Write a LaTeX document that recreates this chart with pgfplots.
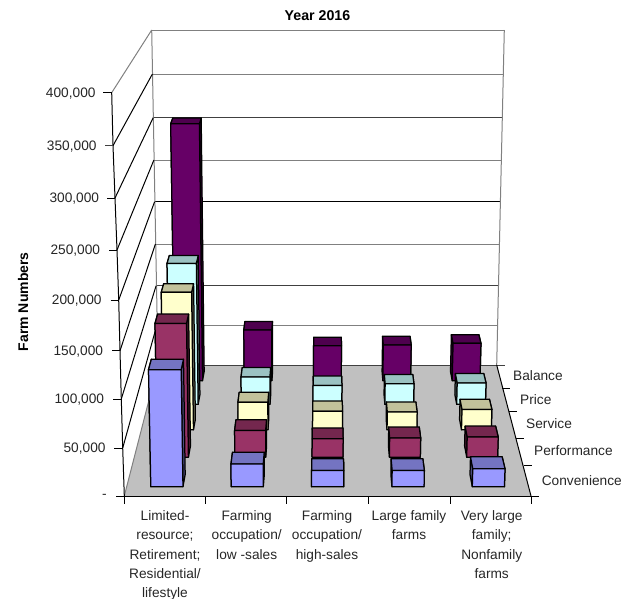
\documentclass[border=0pt]{standalone}
\usepackage{xfp}
\usepackage{fontspec}
\setmainfont{Liberation Sans}
\usepackage{pgfplots}
\pgfplotsset{compat=1.18}
\definecolor{sConv}{HTML}{9999FF}
\definecolor{sPerf}{HTML}{993366}
\definecolor{sServ}{HTML}{FFFFCC}
\definecolor{sPric}{HTML}{CCFFFF}
\definecolor{sBala}{HTML}{660066}
\definecolor{floorc}{HTML}{C0C0C0}
\definecolor{gridg}{HTML}{808080}
\definecolor{gridd}{HTML}{404040}
% projection of the chart's 3D box (u category, v series, w value) to pixels
\newcommand\setpt[4]{%
  \expandafter\edef\csname pt#1x\endcsname{\fpeval{round((124.3+406.7*(#2)+65.4*(#3)-15.7*(#4))/(1+.2008*(#3)-.0545*(#4)),3)}}%
  \expandafter\edef\csname pt#1y\endcsname{\fpeval{round((496-57.7*(#3)-408.4*(#4))/(1+.2008*(#3)-.0545*(#4)),3)}}%
}
% \farmbar{category 0-4}{series 0-4}{farms}{colour}
\newcommand\farmbar[4]{%
  \edef\ua{\fpeval{#1*.2+.06}}\edef\ub{\fpeval{#1*.2+.14}}%
  \edef\va{\fpeval{#2*.2+.06}}\edef\vb{\fpeval{#2*.2+.14}}%
  \edef\wt{\fpeval{#3/400000}}%
  \setpt{a}{\ua}{\va}{0}\setpt{b}{\ub}{\va}{0}%
  \setpt{c}{\ua}{\va}{\wt}\setpt{d}{\ub}{\va}{\wt}%
  \setpt{e}{\ua}{\vb}{\wt}\setpt{f}{\ub}{\vb}{\wt}%
  \setpt{g}{\ua}{\vb}{0}\setpt{h}{\ub}{\vb}{0}%
  \addplot[barline,fill=#4!50!black] coordinates {(\ptax,\ptay)(\ptgx,\ptgy)(\ptex,\ptey)(\ptcx,\ptcy)} --cycle;
  \addplot[barline,fill=#4!50!black] coordinates {(\ptbx,\ptby)(\pthx,\pthy)(\ptfx,\ptfy)(\ptdx,\ptdy)} --cycle;
  \addplot[barline,fill=#4!76!black] coordinates {(\ptcx,\ptcy)(\ptdx,\ptdy)(\ptfx,\ptfy)(\ptex,\ptey)} --cycle;
  \addplot[barline,fill=#4] coordinates {(\ptax,\ptay)(\ptbx,\ptby)(\ptdx,\ptdy)(\ptcx,\ptcy)} --cycle;
}
\newcommand\seg[5]{\addplot[#1,line width=1pt] coordinates {(#2,#3)(#4,#5)};}
\tikzset{barline/.style={draw=black,line width=1.25pt,line join=round}}
\begin{document}
\begin{tikzpicture}
\path[use as bounding box] (0,0) rectangle (643pt,598pt);
\begin{axis}[at={(0,0)},anchor=south west,hide axis,scale only axis,width=643pt,height=598pt,
  xmin=0,xmax=643,ymin=0,ymax=598,y dir=reverse,clip=false]
% floor
\addplot[fill=floorc,draw=none] coordinates {(124.3,496)(531,496)(496.7,365)(158,365)} --cycle;
% back wall grid: left edge to right edge
\seg{gridg}{151.7}{30}{504.3}{30}
\seg{gridg}{152.4}{74}{503.4}{74}
\seg{gridd}{153.2}{117.7}{502.6}{117.7}
\seg{gridg}{153.9}{160}{501.7}{160}
\seg{black}{154.6}{201.7}{500.9}{201.7}
\seg{gridg}{155.4}{244}{500}{244}
\seg{gridd}{156.1}{285.7}{499.1}{285.7}
\seg{gridg}{156.9}{325}{497.8}{325}
\seg{gridd}{158}{365}{505}{365}
% wall edges
\seg{gridg}{151.7}{30}{158}{365}
\seg{gridg}{504.3}{30}{496.7}{365}
\seg{gridg}{111.7}{92.7}{151.7}{30}
\seg{black}{113}{145.7}{152.4}{74}
\seg{black}{115}{198}{153.2}{117.7}
\seg{black}{117}{250}{153.9}{160}
\seg{black}{118.7}{300}{154.6}{201.7}
\seg{black}{120}{350.7}{155.4}{244}
\seg{black}{121.3}{399}{156.1}{285.7}
\seg{black}{122.7}{448}{156.9}{325}
\seg{gridg}{124.3}{496}{158}{365}
% value axis with ticks
\addplot[black,line width=1pt] coordinates {(111.7,92.7)(113,145.7)(115,198)(117,250)(118.7,300)(120,350.7)(121.3,399)(122.7,448)(124.3,496)};
\seg{black}{103.3}{92.7}{111.7}{92.7}
\seg{gridd}{105}{145.7}{113}{145.7}
\seg{black}{107}{198}{115}{198}
\seg{black}{109}{250}{117}{250}
\seg{black}{110.5}{300}{118.7}{300}
\seg{black}{112}{350.7}{120}{350.7}
\seg{black}{113}{399}{121.3}{399}
\seg{black}{114}{448}{122.7}{448}
\seg{black}{116}{496}{531}{496}
% category ticks
\seg{black}{124.5}{496}{124.5}{504}
\seg{black}{205.3}{496}{205.3}{504}
\seg{black}{286.7}{496}{286.7}{504}
\seg{black}{368.7}{496}{368.7}{504}
\seg{black}{450}{496}{450}{504}
\seg{black}{531}{496}{531}{504}
% series axis with ticks
\seg{black}{531}{496}{496.7}{365}
\seg{black}{531}{496}{539}{496}
\seg{black}{523.5}{465.3}{531.7}{465.3}
\seg{black}{516}{438}{524}{438}
\seg{black}{509}{411.3}{517}{411.3}
\seg{black}{502}{388.3}{510}{388.3}
% bars, back row first: Balance, Price, Service, Performance, Convenience
\farmbar{0}{4}{300000}{sBala}\farmbar{1}{4}{61000}{sBala}\farmbar{2}{4}{42000}{sBala}\farmbar{3}{4}{43000}{sBala}\farmbar{4}{4}{45000}{sBala}
\farmbar{0}{3}{162000}{sPric}\farmbar{1}{3}{32000}{sPric}\farmbar{2}{3}{22000}{sPric}\farmbar{3}{3}{24000}{sPric}\farmbar{4}{3}{25000}{sPric}
\farmbar{0}{2}{153000}{sServ}\farmbar{1}{2}{31000}{sServ}\farmbar{2}{2}{21000}{sServ}\farmbar{3}{2}{20000}{sServ}\farmbar{4}{2}{23000}{sServ}
\farmbar{0}{1}{144000}{sPerf}\farmbar{1}{1}{29000}{sPerf}\farmbar{2}{1}{20000}{sPerf}\farmbar{3}{1}{21000}{sPerf}\farmbar{4}{1}{22000}{sPerf}
\farmbar{0}{0}{122000}{sConv}\farmbar{1}{0}{24000}{sConv}\farmbar{2}{0}{17000}{sConv}\farmbar{3}{0}{17000}{sConv}\farmbar{4}{0}{19000}{sConv}
% texts
\tikzset{lab/.style={font=\fontsize{13.7}{19.2}\selectfont,inner sep=0pt,text=black!85}}
\node[lab,font=\bfseries\fontsize{14.2}{16}\selectfont,text=black] at (axis cs:317.5,16) {Year 2016};
\node[lab,font=\bfseries\fontsize{14}{16}\selectfont,text=black,rotate=90] at (axis cs:23,301.7) {Farm Numbers};
\node[lab,anchor=east] at (axis cs:95.7,93.7) {400,000};
\node[lab,anchor=east] at (axis cs:96.7,146.7) {350,000};
\node[lab,anchor=east] at (axis cs:99.3,199) {300,000};
\node[lab,anchor=east] at (axis cs:100.3,251) {250,000};
\node[lab,anchor=east] at (axis cs:101.7,301) {200,000};
\node[lab,anchor=east] at (axis cs:103.3,351.7) {150,000};
\node[lab,anchor=east] at (axis cs:104.3,400) {100,000};
\node[lab,anchor=east] at (axis cs:105.7,449) {50,000};
\node[lab,anchor=east] at (axis cs:107,496) {-};
\node[lab,anchor=west] at (axis cs:513,376) {Balance};
\node[lab,anchor=west] at (axis cs:520,400) {Price};
\node[lab,anchor=west] at (axis cs:526,424) {Service};
\node[lab,anchor=west] at (axis cs:534,451) {Performance};
\node[lab,anchor=west] at (axis cs:541.6,481) {Convenience};
\node[lab,anchor=north,align=center] at (axis cs:165,510.5) {Limited-\\resource;\\Retirement;\\Residential/\\lifestyle};
\node[lab,anchor=north,align=center] at (axis cs:246.7,510.5) {Farming\\occupation/\\low -sales};
\node[lab,anchor=north,align=center] at (axis cs:327,510.5) {Farming\\occupation/\\high-sales};
\node[lab,anchor=north,align=center] at (axis cs:409,510.5) {Large family\\farms};
\node[lab,anchor=north,align=center] at (axis cs:491.7,510.5) {Very large\\family;\\Nonfamily\\farms};
\end{axis}
\end{tikzpicture}
\end{document}
